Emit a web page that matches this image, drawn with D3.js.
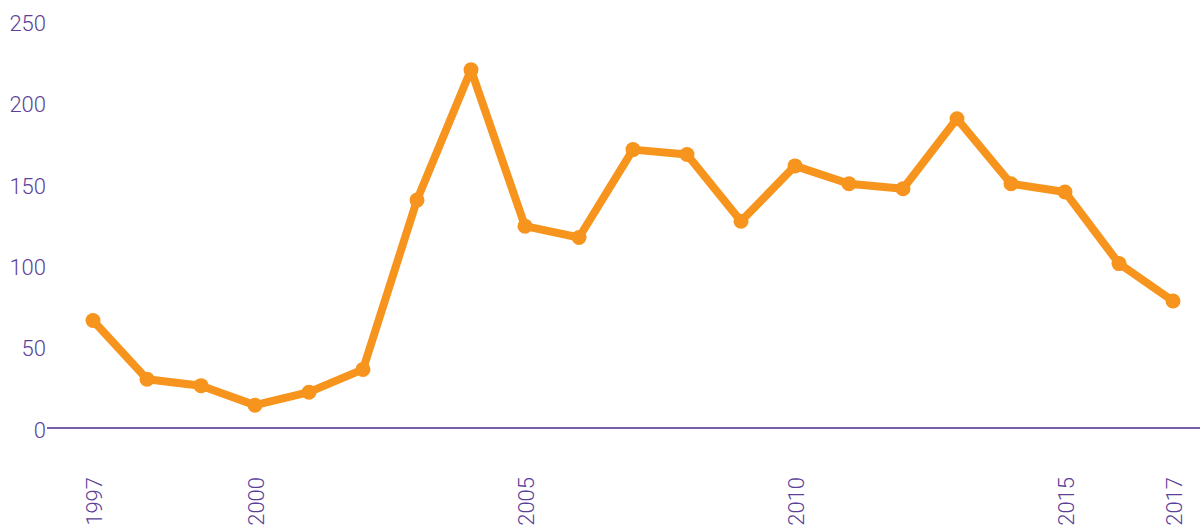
<!DOCTYPE html>
<html>
<head>
<meta charset="utf-8">
<script src="https://cdn.jsdelivr.net/npm/d3@7"></script>
<style>
  html, body { margin: 0; padding: 0; background: #ffffff; }
  svg { display: block; }
  .tick-label { font-family: Roboto, "Open Sans", sans-serif; font-weight: 300; fill: #5b3f99; font-size: 22px; }
</style>
</head>
<body>
<svg id="chart" width="1203" height="526"></svg>
<script>
// Yearly series
const years = [1997, 1998, 1999, 2000, 2001, 2002, 2003, 2004, 2005, 2006, 2007,
               2008, 2009, 2010, 2011, 2012, 2013, 2014, 2015, 2016, 2017];
const values = [66, 30, 26, 14, 22, 36, 140, 220, 124, 117, 171,
                168, 127, 161, 150, 147, 190, 150, 145, 101, 78];

// Axis ticks
const yTicks = [0, 50, 100, 150, 200, 250];
const xTicks = [1997, 2000, 2005, 2010, 2015, 2017];

const svg = d3.select("#chart");

const x = d3.scaleLinear().domain([1997, 2017]).range([93, 1173]);
const y = d3.scaleLinear().domain([0, 250]).range([428, 21]);

// Baseline at zero
svg.append("line")
  .attr("x1", 47).attr("x2", 1200)
  .attr("y1", y(0)).attr("y2", y(0))
  .attr("stroke", "#4a2a8c")
  .attr("stroke-width", 1.5);

// Y tick labels
svg.append("g").selectAll("text")
  .data(yTicks)
  .join("text")
  .attr("class", "tick-label")
  .attr("x", 46)
  .attr("y", d => y(d) + 2)
  .attr("dy", "0.35em")
  .attr("text-anchor", "end")
  .text(d => d);

// X tick labels, rotated
svg.append("g").selectAll("text")
  .data(xTicks)
  .join("text")
  .attr("class", "tick-label")
  .attr("transform", d => `translate(${x(d) + 1},477) rotate(-90)`)
  .attr("dy", "0.35em")
  .attr("text-anchor", "end")
  .text(d => d);

const data = years.map((yr, i) => ({ year: yr, value: values[i] }));

const line = d3.line()
  .x(d => x(d.year))
  .y(d => y(d.value));

svg.append("path")
  .datum(data)
  .attr("fill", "none")
  .attr("stroke", "#f7941d")
  .attr("stroke-width", 8)
  .attr("stroke-linejoin", "round")
  .attr("stroke-linecap", "round")
  .attr("d", line);

svg.append("g").selectAll("circle")
  .data(data)
  .join("circle")
  .attr("cx", d => x(d.year))
  .attr("cy", d => y(d.value))
  .attr("r", 7.5)
  .attr("fill", "#f7941d");
</script>
</body>
</html>
